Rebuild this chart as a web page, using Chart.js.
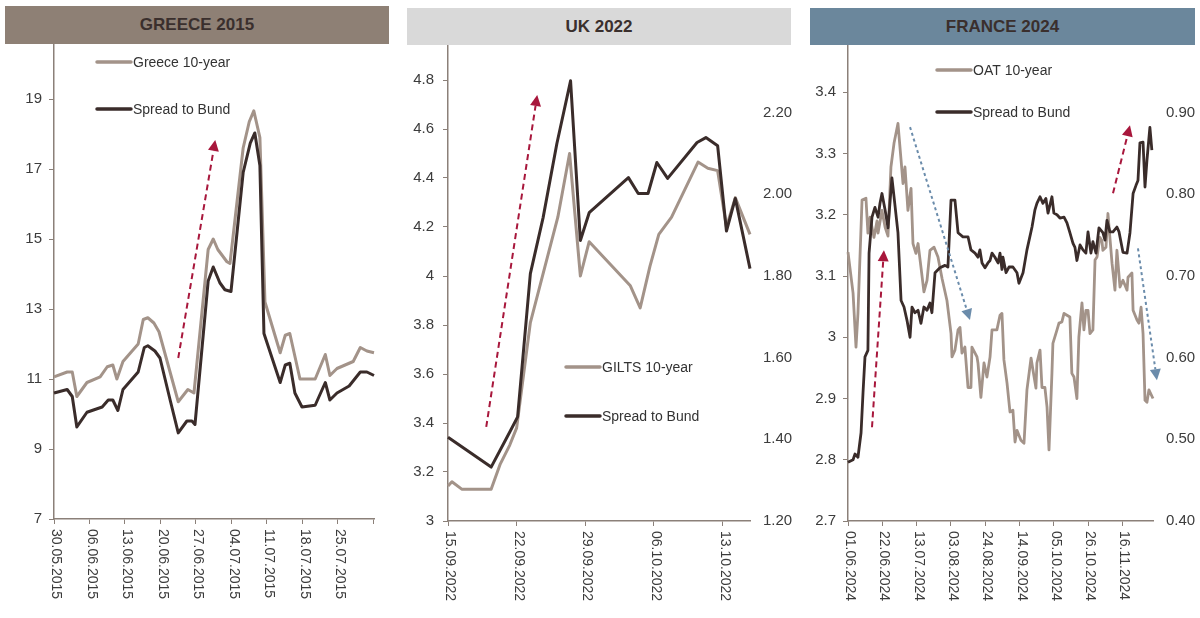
<!DOCTYPE html>
<html>
<head>
<meta charset="utf-8">
<script src="https://cdn.jsdelivr.net/npm/chart.js@4.4.0/dist/chart.umd.min.js"></script>
<style>
body{margin:0;background:#fff;width:1200px;height:618px;overflow:hidden;position:relative;font-family:"Liberation Sans",Arial,sans-serif}
.panel{position:absolute;top:0;width:400px;height:618px}
.head{position:absolute;text-align:center;font-weight:bold;font-size:17px;color:#3a2f2d}
</style>
</head>
<body>
<div class="panel" style="left:0"><canvas id="c1" width="400" height="618"></canvas></div>
<div class="panel" style="left:400px"><canvas id="c2" width="400" height="618"></canvas></div>
<div class="panel" style="left:800px"><canvas id="c3" width="400" height="618"></canvas></div>
<div class="head" style="left:5px;top:6px;width:384px;height:38px;line-height:38px;background:#8e8075">GREECE 2015</div>
<div class="head" style="left:407px;top:8px;width:384px;height:37px;line-height:37px;background:#d9d9d9">UK 2022</div>
<div class="head" style="left:810px;top:8px;width:385px;height:37px;line-height:37px;background:#6b879c">FRANCE 2024</div>
<script>
// GREECE 2015 - days after 30.05.2015
const grYieldDays = [0,2.6,3.6,4.5,6.5,9.1,10.5,11.6,12.4,13.6,16.6,17.6,18.5,19.7,20.7,24.5,26.4,27.6,30.4,31.4,32.3,34.1,34.7,37.3,38.5,39.4,40.6,41.6,44.6,45.6,46.5,48.5,51.5,53.5,54.4,55.8,59,60.4,61.7,63.1]
const grYield = [11.06,11.2,11.2,10.5,10.9,11.06,11.35,11.4,11.0,11.5,12.0,12.7,12.75,12.6,12.35,10.35,10.7,10.6,14.7,15.0,14.7,14.35,14.3,17.6,18.35,18.66,17.9,13.2,11.75,12.25,12.3,11.0,11.0,11.7,11.1,11.3,11.5,11.9,11.8,11.75]
const grSpreadDays = [0,2.6,3.6,4.5,6.5,9.5,10.7,11.6,12.6,13.6,16.6,17.8,18.5,19.9,20.9,22.9,24.5,26.2,27.2,27.8,30.4,31.4,32.7,33.7,34.9,37.3,38.7,39.6,40.6,41.4,44.6,45.6,46.5,47.5,48.9,51.5,53.5,54.4,55.8,58.2,60.4,61.7,63.1]
const grSpread = [10.6,10.7,10.5,9.63,10.05,10.2,10.4,10.4,10.1,10.7,11.2,11.9,11.95,11.8,11.6,10.4,9.46,9.8,9.8,9.7,13.8,14.2,13.75,13.55,13.5,16.9,17.74,18.03,17.1,12.3,10.9,11.4,11.45,10.6,10.2,10.25,10.9,10.4,10.6,10.8,11.2,11.2,11.1]
const grTickDays = [0,7,14,21,28,35,42,49,56,63]
const grTickLabels = ['30.05.2015','06.06.2015','13.06.2015','20.06.2015','27.06.2015','04.07.2015','11.07.2015','18.07.2015','25.07.2015','']
const grYTicks = [7,9,11,13,15,17,19]
const grYLabels = ['7','9','11','13','15','17','19']
const grArrows = [[24.5,11.6,31.8,17.83,'red']]

// UK 2022 - days after 15.09.2022
const ukGiltDays = [0,0.4,1.4,4.4,5.3,6.3,7.0,8.4,11.2,12.4,13.5,14.4,18.6,19.6,20.6,21.5,22.8,25.5,26.5,27.5,28.4,29.3,30.8]
const ukGilt = [3.143,3.16,3.13,3.13,3.23,3.31,3.38,3.81,4.24,4.5,4.0,4.14,3.96,3.87,4.04,4.17,4.24,4.465,4.44,4.43,4.2,4.32,4.17]
const ukSpreadDays = [0,4.4,6.3,7.1,8.4,9.7,11.1,12.5,13.5,14.4,18.4,19.4,20.4,21.3,22.4,25.4,26.3,27.5,28.4,29.3,30.8]
const ukSpread = [1.405,1.332,1.418,1.455,1.806,1.943,2.124,2.278,1.887,1.955,2.041,2.002,2.002,2.078,2.039,2.127,2.139,2.119,1.91,1.99,1.818]
const ukTickDays = [0,7,14,21,28]
const ukTickLabels = ['15.09.2022','22.09.2022','29.09.2022','06.10.2022','13.10.2022']
const ukLeftTicks = [3,3.2,3.4,3.6,3.8,4,4.2,4.4,4.6,4.8]
const ukLeftLabels = ['3','3.2','3.4','3.6','3.8','4','4.2','4.4','4.6','4.8']
const ukRightTicks = [1.2,1.4,1.6,1.8,2.0,2.2]
const ukRightLabels = ['1.20','1.40','1.60','1.80','2.00','2.20']
const ukArrows = [[3.9,3.384,9.1,4.739,'red']]

// FRANCE 2024 - days after 01.06.2024
const frOatDays = [0,3.1,4.9,6.1,8.6,11.0,12.2,13.5,15.9,17.8,18.4,20.8,22.7,24.5,26.3,28.2,30.6,32.5,33.7,34.9,36.7,38.6,39.8,41.6,42.9,44.7,46.5,48.4,50.2,52.7,55.1,57.6,60.6,63.1,63.7,65.5,67.4,68.6,69.8,71.6,73.5,75.3,75.9,79.0,79.6,81.4,83.3,85.1,87.0,88.2,91.2,93.1,94.3,95.5,97.4,99.2,101.0,102.3,103.5,105.9,107.8,109.6,112.1,113.3,115.1,115.7,117.6,118.8,120.6,121.9,123.1,124.9,125.5,128.0,129.2,131.0,132.3,134.1,135.9,137.1,138.4,140.2,141.4,143.3,144.5,145.7,147.0,148.2,150.0,151.3,152.5,154.3,155.5,156.1,158.0,159.2,161.7,163.5,164.7,166.6,168.4,170.9,171.5,173.9,174.6,177.0,178.2,179.5,180.7,181.9,183.1,184.3,186.8]
const frOat = [3.139,3.072,2.984,3.039,3.224,3.227,3.17,3.196,3.163,3.19,3.17,3.207,3.18,3.165,3.278,3.317,3.349,3.289,3.251,3.278,3.207,3.243,3.153,3.137,3.153,3.114,3.074,3.093,3.142,3.147,3.131,3.096,3.06,3.006,2.968,2.979,3.012,3.016,2.974,2.984,2.918,2.918,2.984,2.968,2.958,2.902,2.958,2.935,2.968,3.012,3.012,3.036,3.039,2.963,2.925,2.878,2.881,2.829,2.848,2.832,2.827,2.914,2.966,2.946,2.917,2.958,2.979,2.918,2.918,2.886,2.816,2.941,2.99,3.012,3.023,3.025,3.039,3.036,3.033,2.941,2.935,2.9,3.0,3.056,3.012,3.044,3.044,3.006,3.012,3.126,3.131,3.163,3.158,3.142,3.147,3.202,3.121,3.077,3.142,3.082,3.093,3.077,3.098,3.105,3.044,3.028,3.023,3.049,3.006,2.897,2.894,2.914,2.9]
const frSpreadDays = [0,3.1,4.3,6.1,8.0,9.2,10.4,12.2,12.9,14.7,16.5,18.4,19.6,20.8,22.7,24.5,26.9,28.2,30.6,32.5,34.3,36.1,38.0,39.2,41.0,42.9,44.7,46.5,48.4,50.2,51.4,53.3,56.3,59.4,61.2,63.1,65.5,67.4,70.4,73.5,75.3,77.8,79.6,80.8,82.1,83.9,85.7,87.0,88.2,90.0,91.9,93.1,94.3,94.9,96.8,98.6,101.0,103.5,104.7,107.2,109.6,112.7,114.5,115.7,117.6,119.4,121.2,122.5,124.9,126.1,128.0,129.8,132.3,134.1,135.9,137.8,139.0,140.2,142.1,143.9,145.7,147.0,148.8,150.0,151.9,153.7,156.1,157.4,158.6,160.4,162.3,164.7,166.0,168.4,170.9,172.7,174.6,176.4,177.6,178.8,180.7,181.9,183.1,184.9,186.1]
const frSpread = [0.472,0.475,0.482,0.478,0.508,0.557,0.601,0.609,0.728,0.772,0.784,0.772,0.789,0.801,0.781,0.759,0.82,0.797,0.753,0.67,0.662,0.646,0.625,0.662,0.655,0.658,0.642,0.662,0.658,0.667,0.655,0.704,0.71,0.713,0.711,0.793,0.793,0.753,0.748,0.748,0.732,0.728,0.723,0.732,0.716,0.71,0.716,0.719,0.728,0.723,0.716,0.728,0.708,0.723,0.704,0.711,0.711,0.704,0.691,0.704,0.732,0.76,0.781,0.789,0.797,0.789,0.795,0.777,0.797,0.777,0.775,0.771,0.772,0.765,0.753,0.74,0.735,0.719,0.738,0.732,0.728,0.754,0.728,0.742,0.728,0.759,0.753,0.744,0.768,0.754,0.754,0.76,0.754,0.729,0.728,0.753,0.801,0.811,0.817,0.863,0.864,0.809,0.842,0.882,0.854]
const frTickDays = [0,21,42,63,84,105,126,147,168]
const frTickLabels = ['01.06.2024','22.06.2024','13.07.2024','03.08.2024','24.08.2024','14.09.2024','05.10.2024','26.10.2024','16.11.2024']
const frLeftTicks = [2.7,2.8,2.9,3.0,3.1,3.2,3.3,3.4]
const frLeftLabels = ['2.7','2.8','2.9','3','3.1','3.2','3.3','3.4']
const frRightTicks = [0.4,0.5,0.6,0.7,0.8,0.9]
const frRightLabels = ['0.40','0.50','0.60','0.70','0.80','0.90']
const frArrows = [[14.7,2.853,22.0,3.142,'red'],[38.0,3.343,74.7,3.028,'blue'],[162.3,3.235,172.7,3.346,'red'],[177.6,3.145,189.2,2.93,'blue']]

const FONT = '"Liberation Sans", Arial, sans-serif'
const LIGHT = '#a39389'
const DARK = '#3a2c2a'
const AXIS = '#8b8079'
const TXT = '#3c3c3c'

Chart.defaults.font.family = FONT
Chart.defaults.color = TXT

function pts(xs, ys) {
  return xs.map((x, i) => ({x: x, y: ys[i]}))
}

// arrows, legend and rotated date labels
const decor = {
  id: 'decor',
  afterDatasetsDraw(chart, args, o) {
    const ctx = chart.ctx
    const xs = chart.scales.x, ys = chart.scales.y
    o.arrows.forEach(a => {
      const x0 = xs.getPixelForValue(a[0]), y0 = ys.getPixelForValue(a[1])
      const x1 = xs.getPixelForValue(a[2]), y1 = ys.getPixelForValue(a[3])
      const col = a[4] == 'red' ? '#a8173c' : '#6b8cab'
      const ang = Math.atan2(y1 - y0, x1 - x0)
      const hl = 11, hw = 5.5
      const bx = x1 - Math.cos(ang) * hl, by = y1 - Math.sin(ang) * hl
      ctx.save()
      ctx.strokeStyle = col
      ctx.lineWidth = 2
      ctx.setLineDash(a[4] == 'red' ? [6, 4] : [3, 3])
      ctx.beginPath()
      ctx.moveTo(x0, y0)
      ctx.lineTo(bx, by)
      ctx.stroke()
      ctx.setLineDash([])
      ctx.fillStyle = col
      ctx.beginPath()
      ctx.moveTo(x1, y1)
      ctx.lineTo(bx + Math.sin(ang) * hw, by - Math.cos(ang) * hw)
      ctx.lineTo(bx - Math.sin(ang) * hw, by + Math.cos(ang) * hw)
      ctx.closePath()
      ctx.fill()
      ctx.restore()
    })
    // legend
    ctx.save()
    ctx.font = '14px ' + FONT
    ctx.textBaseline = 'middle'
    chart.data.datasets.forEach((ds, i) => {
      const y = o.legend.y + i * o.legend.gap
      ctx.strokeStyle = ds.borderColor
      ctx.lineWidth = 3.5
      ctx.lineCap = 'round'
      ctx.beginPath()
      ctx.moveTo(o.legend.x, y)
      ctx.lineTo(o.legend.x + 34, y)
      ctx.stroke()
      ctx.fillStyle = '#333'
      ctx.fillText(ds.label, o.legend.x + 36, y + 1)
    })
    ctx.restore()
  },
  afterDraw(chart, args, o) {
    const ctx = chart.ctx, xs = chart.scales.x
    ctx.save()
    ctx.font = '14px ' + FONT
    ctx.fillStyle = TXT
    ctx.textBaseline = 'middle'
    ctx.textAlign = 'left'
    xs.ticks.forEach((t, i) => {
      const lab = o.xLabels[i]
      if (!lab) return
      ctx.save()
      ctx.translate(xs.getPixelForValue(t.value) + 2, xs.top + 10)
      ctx.rotate(Math.PI / 2)
      ctx.fillText(lab, 0, 0)
      ctx.restore()
    })
    ctx.restore()
  }
}

function leftAxis(min, max, vals, labels, width, pad) {
  return {
    position: 'left', min: min, max: max,
    afterBuildTicks: s => { s.ticks = vals.map(v => ({value: v})) },
    afterFit: s => { s.width = width },
    ticks: {font: {size: 15}, color: TXT, padding: pad, callback: (v, i) => labels[i]},
    grid: {drawOnChartArea: false, drawTicks: true, tickLength: 5, color: AXIS},
    border: {display: true, color: AXIS, width: 1.5}
  }
}
function rightAxis(min, max, vals, labels, width) {
  return {
    position: 'right', min: min, max: max,
    afterBuildTicks: s => { s.ticks = vals.map(v => ({value: v})) },
    afterFit: s => { s.width = width },
    ticks: {font: {size: 15}, color: TXT, padding: 13, callback: (v, i) => labels[i]},
    grid: {display: false, drawTicks: false, tickLength: 0},
    border: {display: false}
  }
}
function dateAxis(max, days, height) {
  return {
    type: 'linear', min: 0, max: max,
    afterBuildTicks: s => { s.ticks = days.map(v => ({value: v})) },
    afterFit: s => { s.height = height },
    ticks: {display: false},
    grid: {drawOnChartArea: false, drawTicks: true, tickLength: 5, color: AXIS},
    border: {display: true, color: AXIS, width: 1.5}
  }
}
function line(label, data, color, axis, order, w) {
  return {label: label, data: data, borderColor: color, backgroundColor: color, borderWidth: w,
    pointRadius: 0, tension: 0, yAxisID: axis, order: order, borderJoinStyle: 'round', clip: false}
}
const base = {responsive: false, animation: false, events: []}

new Chart(document.getElementById('c1'), {
  type: 'line',
  data: {datasets: [
    line('Greece 10-year', pts(grYieldDays, grYield), LIGHT, 'y', 2, 3),
    line('Spread to Bund', pts(grSpreadDays, grSpread), DARK, 'y', 1, 3)
  ]},
  options: Object.assign({}, base, {
    layout: {padding: {left: 0, right: 26, top: 29, bottom: 0}},
    scales: {
      x: dateAxis(63.1, grTickDays, 99),
      y: leftAxis(7, 21, grYTicks, grYLabels, 54, 7)
    },
    plugins: {legend: {display: false}, tooltip: {enabled: false},
      decor: {arrows: grArrows, legend: {x: 97, y: 62, gap: 47}, xLabels: grTickLabels}}
  }),
  plugins: [decor]
})

new Chart(document.getElementById('c2'), {
  type: 'line',
  data: {datasets: [
    line('GILTS 10-year', pts(ukGiltDays, ukGilt), LIGHT, 'y', 2, 3),
    line('Spread to Bund', pts(ukSpreadDays, ukSpread), DARK, 'y1', 1, 3)
  ]},
  options: Object.assign({}, base, {
    layout: {padding: {left: 0, right: 0, top: 31, bottom: 0}},
    scales: {
      x: dateAxis(30.8, ukTickDays, 97),
      y: leftAxis(3, 5, ukLeftTicks, ukLeftLabels, 48, 9),
      y1: rightAxis(1.2, 2.4, ukRightTicks, ukRightLabels, 50)
    },
    plugins: {legend: {display: false}, tooltip: {enabled: false},
      decor: {arrows: ukArrows, legend: {x: 166, y: 367, gap: 49}, xLabels: ukTickLabels}}
  }),
  plugins: [decor]
})

new Chart(document.getElementById('c3'), {
  type: 'line',
  data: {datasets: [
    line('OAT 10-year', pts(frOatDays, frOat), LIGHT, 'y', 2, 2.8),
    line('Spread to Bund', pts(frSpreadDays, frSpread), DARK, 'y1', 1, 2.8)
  ]},
  options: Object.assign({}, base, {
    layout: {padding: {left: 0, right: 0, top: 31, bottom: 0}},
    scales: {
      x: dateAxis(186.8, frTickDays, 97),
      y: leftAxis(2.7, 3.5, frLeftTicks, frLeftLabels, 48, 7),
      y1: rightAxis(0.4, 1.0, frRightTicks, frRightLabels, 47)
    },
    plugins: {legend: {display: false}, tooltip: {enabled: false},
      decor: {arrows: frArrows, legend: {x: 137, y: 70, gap: 42}, xLabels: frTickLabels}}
  }),
  plugins: [decor]
})
</script>
</body>
</html>
